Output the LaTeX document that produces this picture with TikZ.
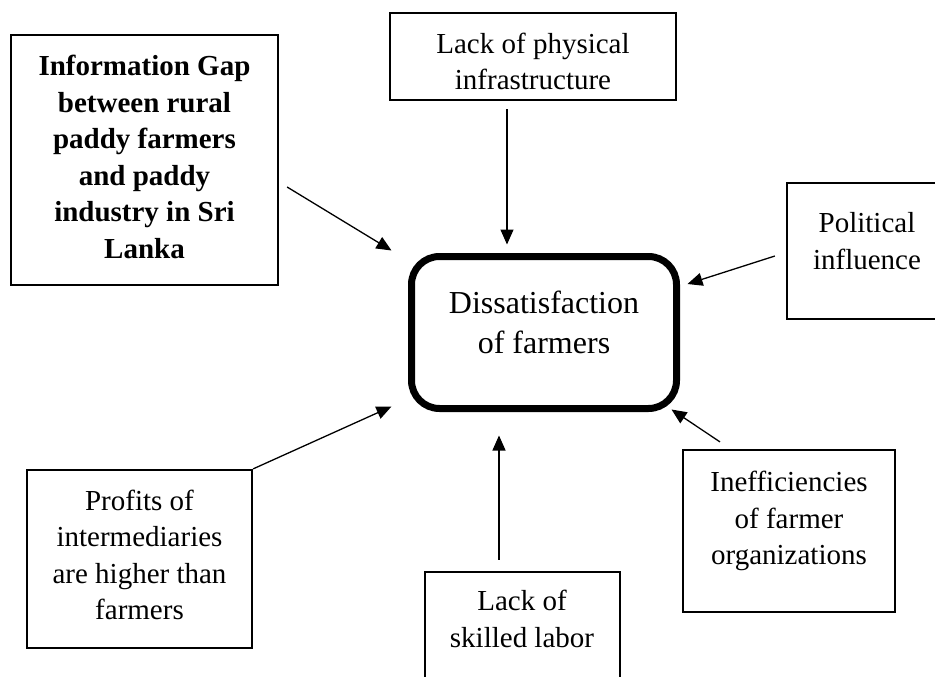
\documentclass[tikz,border=0pt]{standalone}
\usepackage{fontspec}
\setmainfont{Liberation Serif}
\usetikzlibrary{arrows.meta,calc}

\begin{document}
\begin{tikzpicture}[x=1pt,y=-1pt,
  box/.style={draw,line width=2.2pt,inner sep=0pt,fill=none},
  core/.style={draw,line width=7pt,rounded corners=28pt,inner sep=0pt},
  txt/.style={align=center,inner sep=0pt,font=\fontsize{29}{36.6}\selectfont},
  bigtxt/.style={align=center,inner sep=0pt,font=\fontsize{32}{40}\selectfont},
  arr/.style={line width=1.3pt,-{Triangle[length=15pt,width=13pt]}}]

  \useasboundingbox (0,0) rectangle (935,677);
  \clip (0,0) rectangle (935,677);

  % central outcome
  \node[core,minimum width=265pt,minimum height=152pt] (core) at (544,332.5) {};
  \node[bigtxt] (coreT) at (544,322) {Dissatisfaction\\of farmers};

  % contributing causes
  \node[box,minimum width=267pt,minimum height=250pt] (gap) at (144.5,160) {};
  \node[txt,font=\fontsize{29}{36.6}\selectfont\bfseries] (gapT) at (144.5,157)
    {Information Gap\\between rural\\paddy farmers\\and paddy\\industry in Sri\\Lanka};

  \node[box,minimum width=286pt,minimum height=87pt] (infra) at (533,56.5) {};
  \node[txt] (infraT) at (533,61.5) {Lack of physical\\infrastructure};

  \node[box,minimum width=158pt,minimum height=136pt] (pol) at (866,251) {};
  \node[txt] (polT) at (867,241) {Political\\influence};

  \node[box,minimum width=225pt,minimum height=178pt] (prof) at (139.5,559) {};
  \node[txt] (profT) at (139.5,555) {Profits of\\intermediaries\\are higher than\\farmers};

  \node[box,minimum width=195pt,minimum height=118pt] (skill) at (522.5,631) {};
  \node[txt] (skillT) at (522,619) {Lack of\\skilled labor};

  \node[box,minimum width=212pt,minimum height=162pt] (ineff) at (789,531) {};
  \node[txt] (ineffT) at (789,521) {Inefficiencies\\of farmer\\organizations};

  % connector end points
  \coordinate (gapOut)   at ($(gap.east)+(8,27)$);
  \coordinate (gapIn)    at ($(core.north west)+(-16.5,-2.5)$);
  \coordinate (infraOut) at ($(infra.south)+(-26,8)$);
  \coordinate (infraIn)  at ($(core.north)+(-37,-8.5)$);
  \coordinate (polOut)   at ($(pol.west)+(-11,5)$);
  \coordinate (polIn)    at ($(core.east)+(7.5,-48.5)$);
  \coordinate (profIn)   at ($(core.south west)+(-16.5,-5.5)$);
  \coordinate (skillOut) at ($(skill.north)+(-23.5,-11)$);
  \coordinate (skillIn)  at ($(core.south)+(-45,23.5)$);
  \coordinate (ineffOut) at ($(ineff.north)+(-69,-7)$);
  \coordinate (ineffIn)  at ($(core.south east)+(-8.5,-2.5)$);

  % connectors
  \draw[arr] (gapOut) -- (gapIn);
  \draw[arr] (infraOut) -- (infraIn);
  \draw[arr] (polOut) -- (polIn);
  \draw[arr] (prof.north east) -- (profIn);
  \draw[arr] (skillOut) -- (skillIn);
  \draw[arr] (ineffOut) -- (ineffIn);
\end{tikzpicture}
\end{document}
